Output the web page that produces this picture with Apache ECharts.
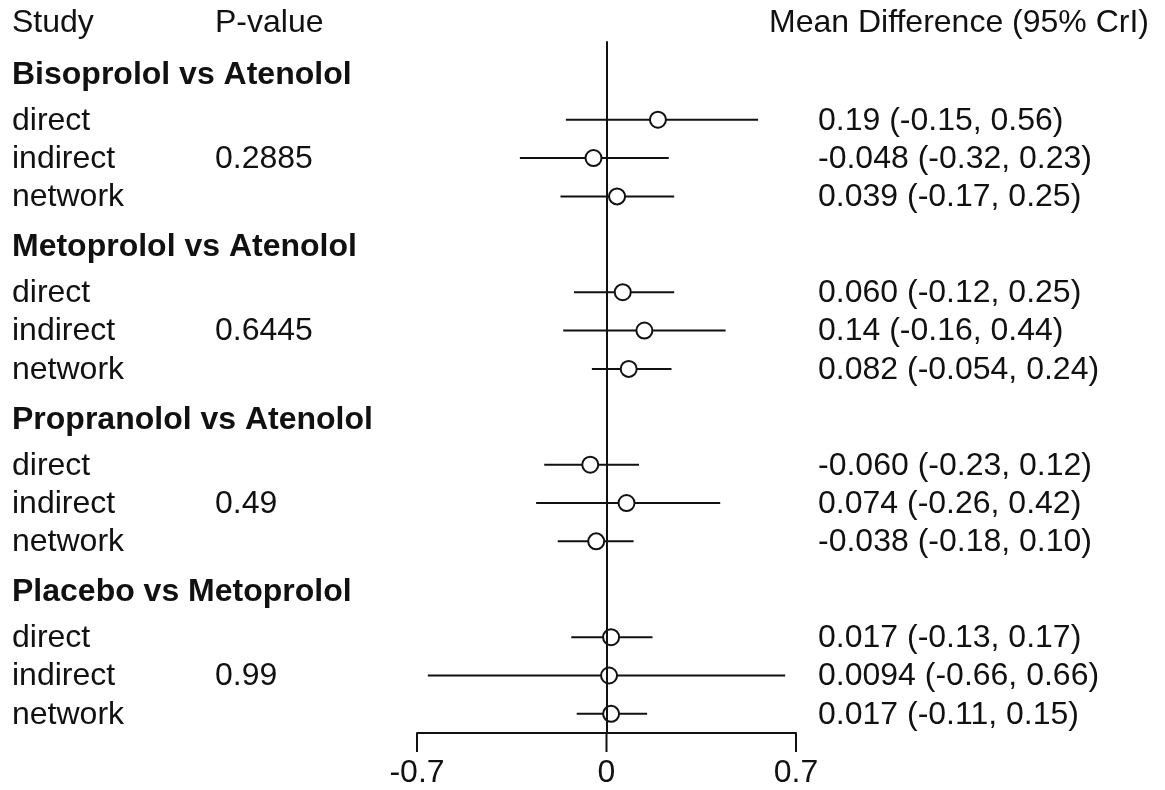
<!DOCTYPE html>
<html>
<head>
<meta charset="utf-8">
<script src="https://cdn.jsdelivr.net/npm/echarts@6/dist/echarts.min.js"></script>
<style>
  html, body { margin: 0; padding: 0; background: #fff; }
  #chart { width: 1165px; height: 790px; }
</style>
</head>
<body>
<div id="chart"></div>
<script>
// ---------- data ----------
const groups = ['Bisoprolol vs Atenolol', 'Metoprolol vs Atenolol', 'Propranolol vs Atenolol', 'Placebo vs Metoprolol'];
const rowTypes = ['direct', 'indirect', 'network'];
const pValues = ['0.2885', '0.6445', '0.49', '0.99'];
const means = [0.19, -0.048, 0.039, 0.060, 0.14, 0.082, -0.060, 0.074, -0.038, 0.017, 0.0094, 0.017];
const lowers = [-0.15, -0.32, -0.17, -0.12, -0.16, -0.054, -0.23, -0.26, -0.18, -0.13, -0.66, -0.11];
const uppers = [0.56, 0.23, 0.25, 0.25, 0.44, 0.24, 0.12, 0.42, 0.10, 0.17, 0.66, 0.15];
const meanText = ['0.19', '-0.048', '0.039', '0.060', '0.14', '0.082', '-0.060', '0.074', '-0.038', '0.017', '0.0094', '0.017'];
const lowerText = ['-0.15', '-0.32', '-0.17', '-0.12', '-0.16', '-0.054', '-0.23', '-0.26', '-0.18', '-0.13', '-0.66', '-0.11'];
const upperText = ['0.56', '0.23', '0.25', '0.25', '0.44', '0.24', '0.12', '0.42', '0.10', '0.17', '0.66', '0.15'];
const headers = ['Study', 'P-value', 'Mean Difference (95% CrI)'];
const xTicks = [-0.7, 0, 0.7];
const xMin = -0.7, xMax = 0.7, xStep = 0.7;

// ---------- layout (row units, counted downward; plotted as negatives) ----------
const GROUP_PERIOD = 4.5;
const ROW_OFFSET = [1.2, 2.2, 3.2];
const HEADER_ROW = -1.35;
const Y_MAX = 17.2;
const TICK_LEN = 19;
const COL_STUDY = 12, COL_P = 215, COL_EST_HEADER = 769, COL_EST = 818;
const FONT = '"Liberation Sans", Arial, sans-serif';
const FS = 32;
const INK = '#111';

const rowY = (g, r) => -(g * GROUP_PERIOD + ROW_OFFSET[r]);

const barData = [], pointData = [], textData = [];
headers.forEach((h, i) => {
  textData.push({ value: [0, -HEADER_ROW], px: [COL_STUDY, COL_P, COL_EST_HEADER][i], text: h, bold: false });
});
groups.forEach((gName, g) => {
  textData.push({ value: [0, -(g * GROUP_PERIOD)], px: COL_STUDY, text: gName, bold: true });
  rowTypes.forEach((rt, r) => {
    const k = g * rowTypes.length + r;
    const y = rowY(g, r);
    barData.push([lowers[k], uppers[k], y]);
    pointData.push([means[k], y]);
    textData.push({ value: [0, y], px: COL_STUDY, text: rt, bold: false });
    if (r === 1) textData.push({ value: [0, y], px: COL_P, text: pValues[g], bold: false });
    textData.push({ value: [0, y], px: COL_EST, text: meanText[k] + ' (' + lowerText[k] + ', ' + upperText[k] + ')', bold: false });
  });
});

const chart = echarts.init(document.getElementById('chart'), null, { renderer: 'canvas' });
chart.setOption({
  backgroundColor: '#fff',
  animation: false,
  grid: { left: 417, right: 369, top: 22, bottom: 57, containLabel: false },
  xAxis: {
    type: 'value', min: xMin, max: xMax, interval: xStep, position: 'bottom',
    axisLine: { show: true, onZero: false, lineStyle: { color: INK, width: 2 } },
    axisTick: { show: false },
    axisLabel: { color: INK, fontSize: FS, fontFamily: FONT, margin: 24 },
    splitLine: { show: false }
  },
  yAxis: {
    type: 'value', min: -Y_MAX, max: -HEADER_ROW, show: false,
    splitLine: { show: false }
  },
  series: [
    {
      type: 'custom', name: 'ci', z: 2, silent: true,
      data: barData,
      encode: { x: [0, 1], y: 2 },
      renderItem: function (params, api) {
        const a = api.coord([api.value(0), api.value(2)]);
        const b = api.coord([api.value(1), api.value(2)]);
        return { type: 'line', shape: { x1: a[0], y1: a[1], x2: b[0], y2: b[1] },
                 style: { stroke: INK, lineWidth: 2 } };
      }
    },
    {
      type: 'scatter', name: 'mean', z: 3, silent: true,
      data: pointData, symbol: 'circle', symbolSize: 16,
      itemStyle: { color: '#fff', borderColor: INK, borderWidth: 2, opacity: 1 }
    },
    {
      type: 'scatter', name: 'zero', z: 4, silent: true, data: [],
      markLine: {
        silent: true, symbol: ['none', 'none'], animation: false,
        label: { show: false },
        lineStyle: { color: INK, width: 2, type: 'solid' },
        data: [[{ coord: [0, 0.85] }, { coord: [0, -Y_MAX] }]]
      }
    },
    {
      // axis tick marks, placed through the x scale, pointing downward from the axis line
      type: 'custom', name: 'ticks', z: 4, silent: true, clip: false,
      data: xTicks.map(v => [v, -Y_MAX]),
      encode: { x: 0, y: 1 },
      renderItem: function (params, api) {
        const p = api.coord([api.value(0), api.value(1)]);
        return { type: 'line', shape: { x1: p[0], y1: p[1], x2: p[0], y2: p[1] + TICK_LEN },
                 style: { stroke: INK, lineWidth: 2 } };
      }
    },
    {
      type: 'custom', name: 'text', z: 5, silent: true, clip: false,
      data: textData,
      encode: { x: 0, y: 1 },
      renderItem: function (params, api) {
        const d = textData[params.dataIndex];
        const p = api.coord([0, api.value(1)]);
        return { type: 'text', x: d.px, y: p[1] + 1,
                 style: { text: d.text, fill: INK, font: (d.bold ? 'bold ' : '') + FS + 'px ' + FONT,
                          align: 'left', verticalAlign: 'middle' } };
      }
    }
  ]
});
</script>
</body>
</html>
